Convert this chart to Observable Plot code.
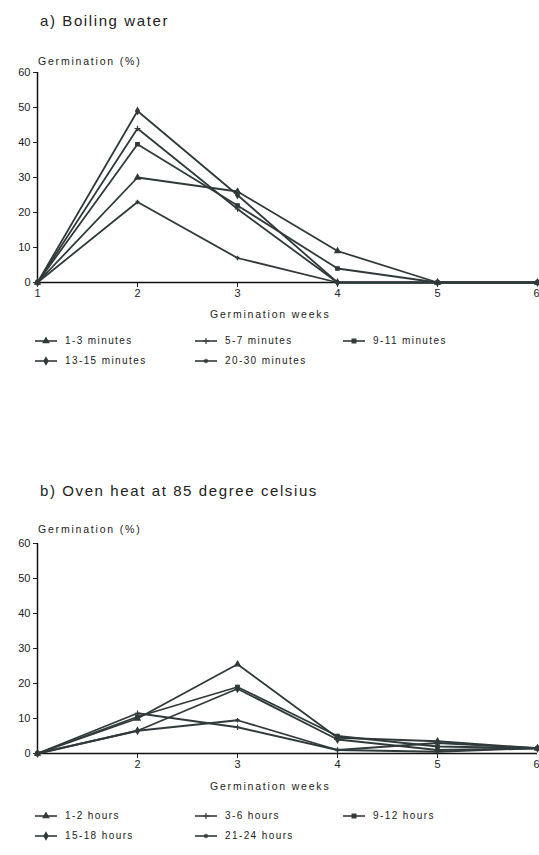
<!DOCTYPE html>
<html><head><meta charset="utf-8">
<script src="https://cdn.jsdelivr.net/npm/d3@7"></script>
<script src="https://cdn.jsdelivr.net/npm/@observablehq/plot@0.6"></script>
<style>
body{margin:0;background:#fff;font-family:"Liberation Sans",Arial,sans-serif;color:#222;}
#wrap{position:relative;width:539px;height:855px;overflow:hidden;background:#fff;}
.abs{position:absolute;white-space:nowrap;}
.title{font-size:15px;letter-spacing:1.6px;line-height:15px;}
.lab{font-size:10.5px;letter-spacing:1.8px;line-height:11px;}
.leg{font-size:10px;letter-spacing:1.4px;line-height:10px;display:flex;align-items:center;}
.leg svg{margin-right:8px;}
</style>
</head><body><div id="wrap"></div>
<script>
// ---- data ----
const weeks = [1, 2, 3, 4, 5, 6];
const yTicks = [0, 10, 20, 30, 40, 50, 60];

const seriesA = ["1-3 minutes", "5-7 minutes", "9-11 minutes", "13-15 minutes", "20-30 minutes"];
const a_1_3   = [0, 30, 26, 9, 0, 0];
const a_5_7   = [0, 44, 21, 0, 0, 0];
const a_9_11  = [0, 39.5, 22, 4, 0, 0];
const a_13_15 = [0, 49, 25, 0, 0, 0];
const a_20_30 = [0, 23, 7, 0, 0, 0];

const seriesB = ["1-2 hours", "3-6 hours", "9-12 hours", "15-18 hours", "21-24 hours"];
const b_1_2   = [0, 10, 25.5, 4.5, 3.5, 1.5];
const b_3_6   = [0, 11.5, 7.5, 1, 0.5, 1.5];
const b_9_12  = [0, 10.5, 19, 5, 2, 1.5];
const b_15_18 = [0, 6.5, 18.5, 4, 1, 1.5];
const b_21_24 = [0, 6.5, 9.5, 1, 3, 1.5];

const symbolNames = ["triangle", "plus", "square", "diamond", "asterisk"];
const d3Symbols = [d3.symbolTriangle, d3.symbolPlus, d3.symbolSquare, d3.symbolDiamond, d3.symbolAsterisk];

const INK = "#303a3a";

function rows(names, arrays) {
  const out = [];
  names.forEach((s, i) => arrays[i].forEach((v, j) => out.push({series: s, week: weeks[j], value: v})));
  return out;
}
const dataA = rows(seriesA, [a_1_3, a_5_7, a_9_11, a_13_15, a_20_30]);
const dataB = rows(seriesB, [b_1_2, b_3_6, b_9_12, b_15_18, b_21_24]);

const wrap = document.getElementById("wrap");
function addText(cls, text, left, top) {
  const d = document.createElement("div");
  d.className = "abs " + cls;
  d.textContent = text;
  d.style.left = left + "px";
  d.style.top = top + "px";
  wrap.appendChild(d);
  return d;
}

function chart(data, names, top, showOne) {
  const mainTicks = weeks.filter(w => w < 6 && (showOne || w !== 1));
  const svg = Plot.plot({
    width: 539, height: 275,
    marginLeft: 37, marginRight: 2, marginTop: 22, marginBottom: 43,
    style: {fontFamily: "Liberation Sans, Arial, sans-serif", fontSize: "11px", color: "#222", background: "transparent"},
    x: {domain: [1, 6], label: null},
    y: {domain: [0, 60], label: null},
    symbol: {domain: names, range: symbolNames},
    marks: [
      Plot.axisY({ticks: yTicks, tickSize: 4, tickPadding: 3, label: null}),
      Plot.axisX({ticks: mainTicks, tickFormat: d => String(d), tickSize: 5, tickPadding: 2, label: null}),
      Plot.axisX({ticks: [6], tickFormat: d => String(d), tickSize: 5, tickPadding: 2, textAnchor: "end", dx: 2, label: null}),
      Plot.ruleY([0], {stroke: "#111", strokeWidth: 1.5}),
      Plot.ruleX([1], {y1: 0, y2: 60, stroke: "#111", strokeWidth: 1.5}),
      Plot.line(data, {x: "week", y: "value", z: "series", stroke: INK, strokeWidth: 1.8}),
      Plot.dot(data, {x: "week", y: "value", symbol: "series", fill: INK, stroke: INK, r: 2, strokeWidth: 1.2})
    ]
  });
  svg.style.position = "absolute";
  svg.style.left = "0px";
  svg.style.top = top + "px";
  wrap.appendChild(svg);
}

function legend(names, top) {
  const cols = [35, 195, 343];
  names.forEach((n, i) => {
    const d = document.createElement("div");
    d.className = "abs leg";
    d.style.left = cols[i % 3] + "px";
    d.style.top = (top + Math.floor(i / 3) * 20) + "px";
    const path = d3.symbol(d3Symbols[i], 14)();
    d.innerHTML = `<svg width="22" height="10" viewBox="0 0 22 10"><line x1="0" x2="22" y1="5" y2="5" stroke="${INK}" stroke-width="1.6"/><path d="${path}" transform="translate(11,5)" fill="${INK}" stroke="${INK}" stroke-width="1.2"/></svg>`;
    const t = document.createElement("span");
    t.textContent = n;
    d.appendChild(t);
    wrap.appendChild(d);
  });
}

// chart a
addText("title", "a) Boiling water", 40, 13);
addText("lab", "Germination (%)", 38, 56);
chart(dataA, seriesA, 50, true);
addText("lab", "Germination weeks", 210, 309);
legend(seriesA, 336);

// chart b
addText("title", "b) Oven heat at 85 degree celsius", 40, 483);
addText("lab", "Germination (%)", 38, 524);
chart(dataB, seriesB, 521, false);
addText("lab", "Germination weeks", 210, 781);
legend(seriesB, 811);
</script>
</body></html>
